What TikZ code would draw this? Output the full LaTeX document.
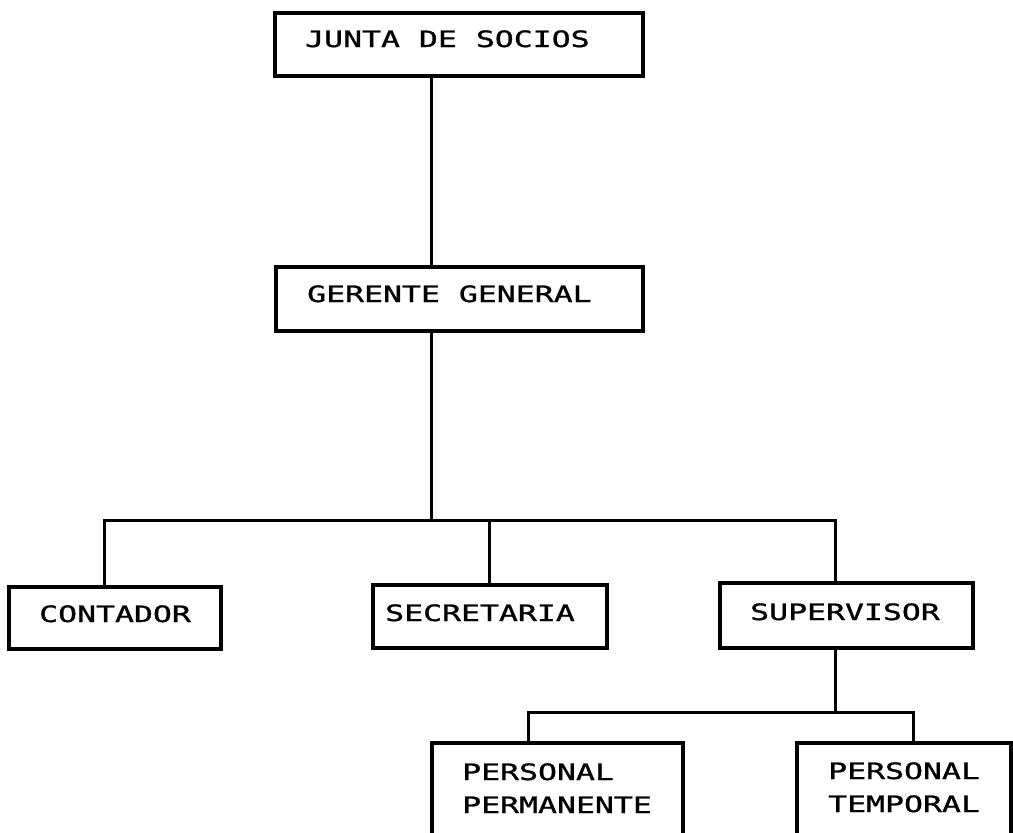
\documentclass[tikz,border=0pt]{standalone}
\usepackage{fontspec}
\newfontfamily\dotfont[FakeStretch=1.4,FakeBold=1.2]{DejaVu Sans Mono}
\begin{document}
\begin{tikzpicture}[x=1pt,y=-1pt,
  box/.style={draw=black, line width=3.4pt, fill=white, rectangle, inner sep=0pt, line join=miter},
  conn/.style={draw=black, line width=3pt},
  lbl/.style={anchor=base west, inner sep=0pt, font=\dotfont\fontsize{22.5}{33}\selectfont, align=left}]
\useasboundingbox (0,0) rectangle (1013,833);
\clip (0,0) rectangle (1013,833);
\fill[white] (0,0) rectangle (1013,833);
% coordinates for connector bends
\coordinate (c1) at (431,520);
\coordinate (h1) at (104,520);
\coordinate (h2) at (835,520);
\coordinate (h3) at (528,712);
\coordinate (h4) at (913,712);
% connectors
\draw[conn] (c1 |- 0,76) -- (c1 |- 0,267);
\draw[conn] (c1 |- 0,331) -- (c1);
\draw[conn] (h1 |- 0,587) -- (h1) -- (h2) -- (h2 |- 0,583);
\draw[conn] (489,520) -- (489,585);
\draw[conn] (h2 |- 0,648) -- (h2 |- h3);
\draw[conn] (h3 |- 0,743) -- (h3) -- (h4) -- (h4 |- 0,743);
% boxes
\node[box, minimum width=368pt, minimum height=63pt] (junta) at (459,44.5) {};
\node[box, minimum width=367pt, minimum height=64pt] (gerente) at (459.5,299) {};
\node[box, minimum width=212pt, minimum height=62pt] (contador) at (115,618) {};
\node[box, minimum width=234pt, minimum height=63pt] (secretaria) at (490,616.5) {};
\node[box, minimum width=253pt, minimum height=65pt] (supervisor) at (846.5,615.5) {};
\node[box, minimum width=251pt, minimum height=127pt] (permanente) at (557.5,806.5) {};
\node[box, minimum width=214pt, minimum height=127pt] (temporal) at (904,806.5) {};
% texts
\node[lbl] (tjunta) at (305,47) {JUNTA DE SOCIOS};
\node[lbl] (tgerente) at (307,302) {GERENTE GENERAL};
\node[lbl] (tcontador) at (39,622) {CONTADOR};
\node[lbl] (tsecretaria) at (385,621) {SECRETARIA};
\node[lbl] (tsupervisor) at (750,620) {SUPERVISOR};
\node[lbl] (tpermanente) at (462,813) {PERSONAL\\PERMANENTE};
\node[lbl] (ttemporal) at (828,812) {PERSONAL\\TEMPORAL};
\end{tikzpicture}
\end{document}
